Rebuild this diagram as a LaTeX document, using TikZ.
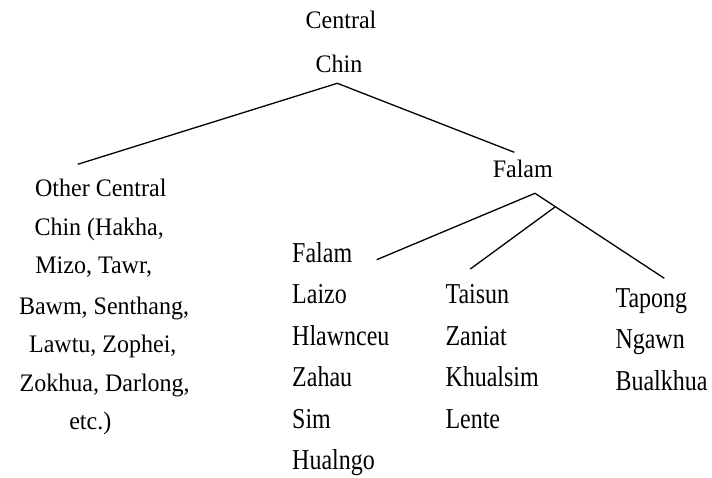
\documentclass[tikz,border=0pt]{standalone}
\usepackage{fontspec}
\setmainfont{Liberation Serif}
\newcommand\coltxt[1]{\scalebox{1}[1.2]{#1}}
\newcommand\headtxt[1]{\scalebox{1}[1.05]{#1}}
\begin{document}
\begin{tikzpicture}[x=1pt,y=-1pt,
  lbl/.style={inner sep=0pt,anchor=base,font=\fontsize{24}{24}\selectfont},
  lft/.style={lbl,anchor=base west},
  edge/.style={line width=1.3pt}]
\useasboundingbox (0,0) rectangle (712,478);
% top labels
\node[lbl] (central) at (341,28.3) {\headtxt{Central}};
\node[lbl] (chin) at (339,72.7) {\headtxt{Chin}};
\node[lbl] (falam) at (522.8,177.7) {\headtxt{Falam}};
% left column
\node[lbl] (o1) at (100.8,196.7) {\headtxt{Other Central}};
\node[lbl] (o2) at (99.2,235.7) {\headtxt{Chin (Hakha,}};
\node[lbl] (o3) at (93.7,274) {\headtxt{Mizo, Tawr,}};
\node[lbl] (o4) at (104,314) {\headtxt{Bawm, Senthang,}};
\node[lbl] (o5) at (102.8,352.3) {\headtxt{Lawtu, Zophei,}};
\node[lbl] (o6) at (104.7,391.3) {\headtxt{Zokhua, Darlong,}};
\node[lbl] (o7) at (90.3,429) {\headtxt{etc.)}};
% Falam column
\node[lft] (fa) at (292,263) {\coltxt{Falam}};
\node[lft] (a1) at (292,304) {\coltxt{Laizo}};
\node[lft] (a2) at (292,345.4) {\coltxt{Hlawnceu}};
\node[lft] (a3) at (292,386.7) {\coltxt{Zahau}};
\node[lft] (a4) at (292,428.3) {\coltxt{Sim}};
\node[lft] (a5) at (292,469.3) {\coltxt{Hualngo}};
% Taisun column
\node[lft] (b1) at (445.3,304) {\coltxt{Taisun}};
\node[lft] (b2) at (445.3,345.4) {\coltxt{Zaniat}};
\node[lft] (b3) at (445.3,386.7) {\coltxt{Khualsim}};
\node[lft] (b4) at (445.3,428.3) {\coltxt{Lente}};
% Tapong column
\node[lft] (c1) at (615.3,307.3) {\coltxt{Tapong}};
\node[lft] (c2) at (615.3,348.7) {\coltxt{Ngawn}};
\node[lft] (c3) at (615.3,390) {\coltxt{Bualkhua}};
% connector points
\coordinate (top) at (337.3,83.3);
\coordinate (oend) at (77.7,164.3);
\coordinate (fend) at (514.3,152.3);
\coordinate (ftop) at (535,193.3);
\coordinate (fmid) at (555,207);
\coordinate (faend) at (376.7,259.7);
\coordinate (b1end) at (470.3,269);
\coordinate (c1end) at (664.3,278.3);
% connectors
\draw[edge] (oend) -- (top) -- (fend);
\draw[edge] (faend) -- (ftop) -- (c1end);
\draw[edge] (fmid) -- (b1end);
\end{tikzpicture}
\end{document}
